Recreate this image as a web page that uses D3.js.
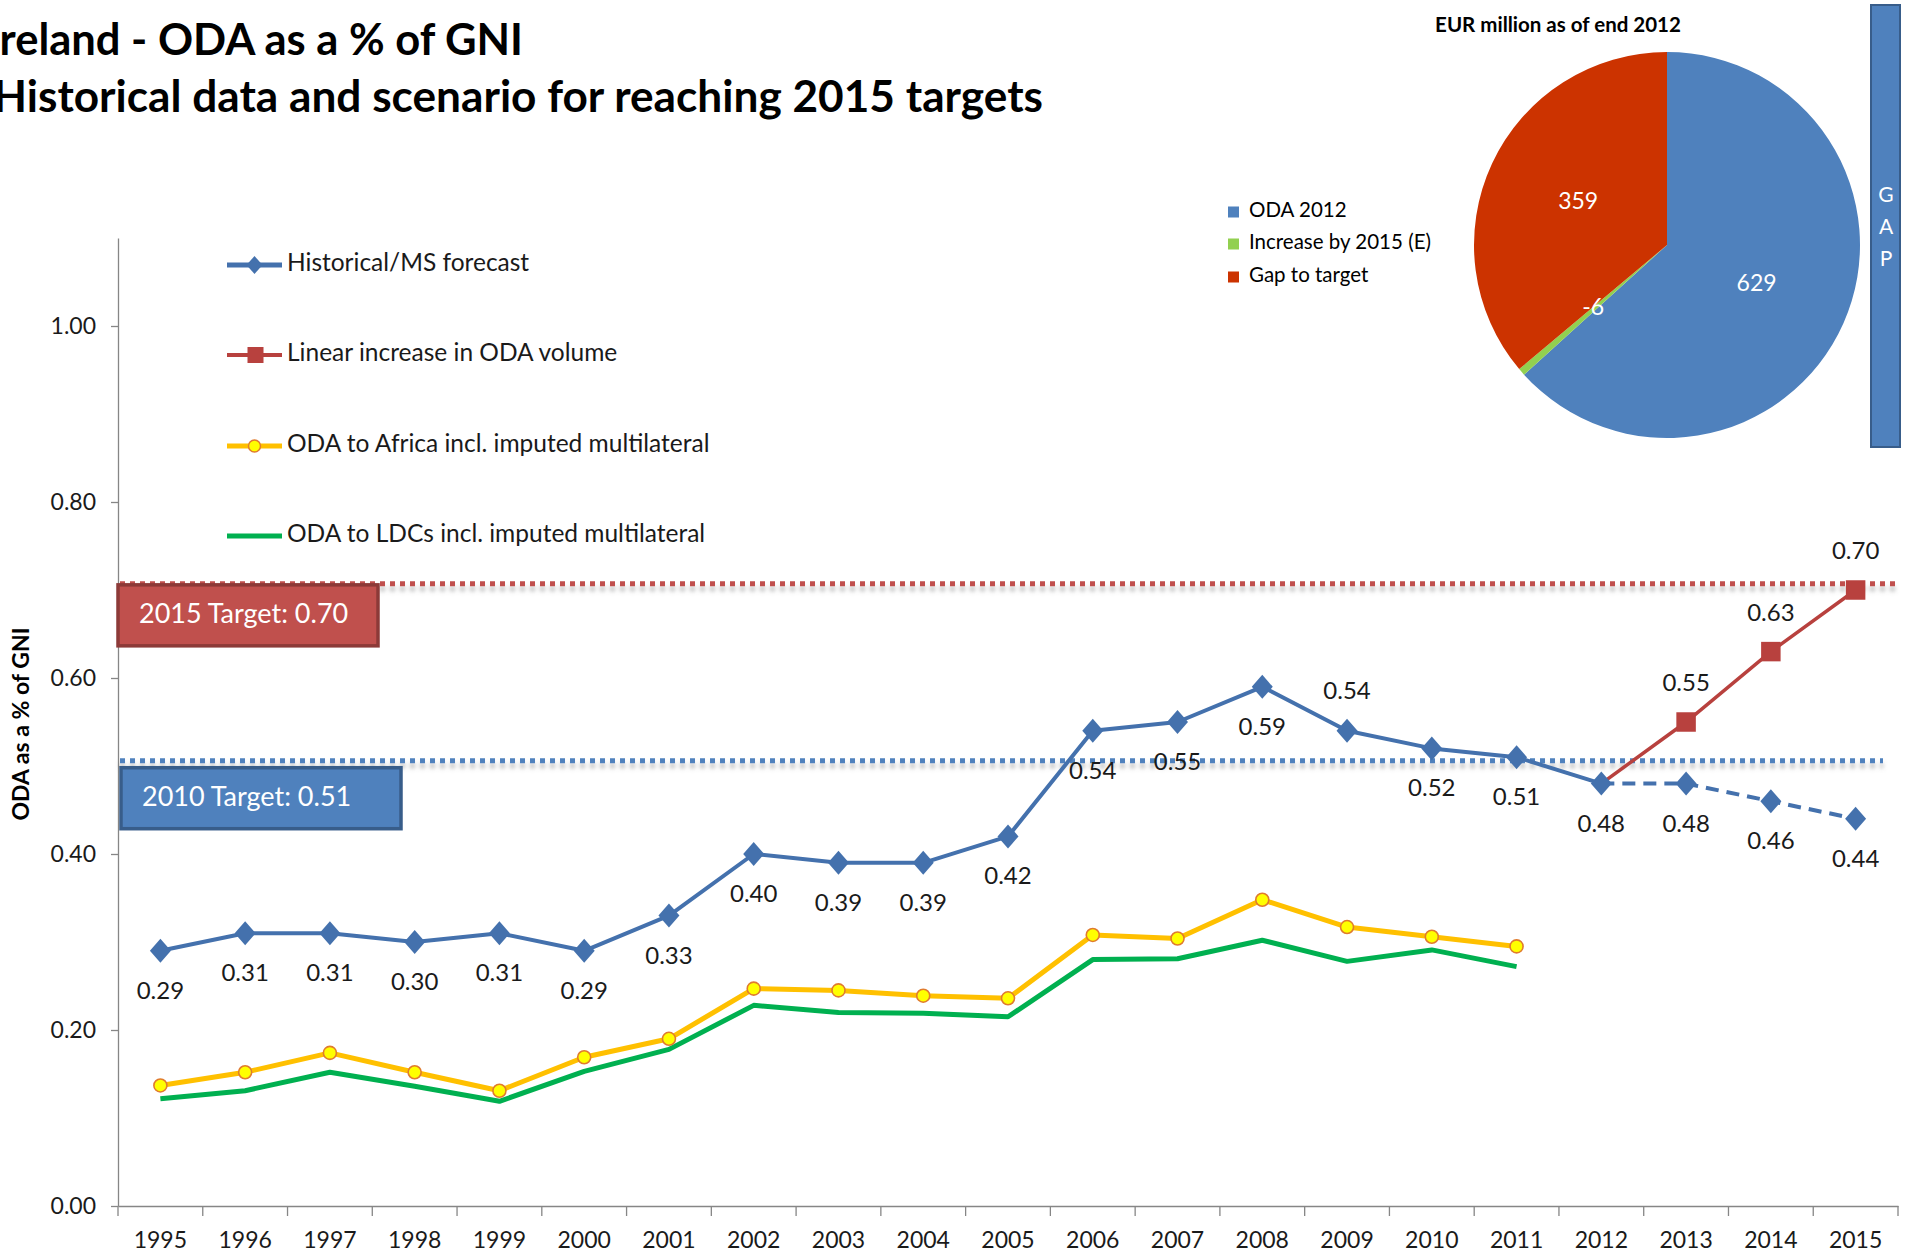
<!DOCTYPE html>
<html>
<head>
<meta charset="utf-8">
<script src="https://cdn.jsdelivr.net/npm/d3@7"></script>
<style>
  body { margin: 0; background: #fff; }
  svg { display: block; font-family: Lato, "Open Sans", sans-serif; }
</style>
</head>
<body>
<div id="chart"></div>
<script>
// categories
var years = [1995, 1996, 1997, 1998, 1999, 2000, 2001, 2002, 2003, 2004, 2005,
             2006, 2007, 2008, 2009, 2010, 2011, 2012, 2013, 2014, 2015];

// ODA as % of GNI, historical + MS forecast (2012 onward is the forecast)
var historical = [0.29, 0.31, 0.31, 0.30, 0.31, 0.29, 0.33, 0.40, 0.39, 0.39, 0.42,
                  0.54, 0.55, 0.59, 0.54, 0.52, 0.51, 0.48, 0.48, 0.46, 0.44];
var forecastFrom = 2012;

// linear increase scenario
var linearIncrease = [null, null, null, null, null, null, null, null, null, null, null,
                      null, null, null, null, null, null, 0.48, 0.55, 0.63, 0.70];

// ODA to Africa incl. imputed multilateral
var africa = [0.137, 0.152, 0.174, 0.152, 0.131, 0.169, 0.190, 0.247, 0.245, 0.239, 0.236,
              0.308, 0.304, 0.348, 0.317, 0.306, 0.295, null, null, null, null];

// ODA to LDCs incl. imputed multilateral
var ldcs = [0.122, 0.131, 0.152, 0.136, 0.119, 0.153, 0.178, 0.228, 0.220, 0.219, 0.215,
            0.280, 0.281, 0.302, 0.278, 0.291, 0.272, null, null, null, null];

// years whose blue data label sits above the marker
var labelsAbove = [2009];

var seriesNames = ["Historical/MS forecast", "Linear increase in ODA volume",
                   "ODA to Africa incl. imputed multilateral", "ODA to LDCs incl. imputed multilateral"];

var targetLabels = ["2015 Target: 0.70", "2010 Target: 0.51"];
var targetValues = [0.707, 0.506];

var yTicks = [0, 0.2, 0.4, 0.6, 0.8, 1.0];

// pie: EUR million as of end 2012
var pieNames = ["ODA 2012", "Increase by 2015 (E)", "Gap to target"];
var pieValues = [629, -6, 359];

var blue = "#4471AD", red = "#B8413E", yellow = "#FFC000", green = "#00B050";

var W = 1907, H = 1255;
var svg = d3.select("#chart").append("svg")
    .attr("width", W)
    .attr("height", H);

var defs = svg.append("defs");
var shadow = defs.append("filter").attr("id", "shadow")
    .attr("filterUnits", "userSpaceOnUse")
    .attr("x", 0).attr("y", 0).attr("width", W).attr("height", H);
shadow.append("feDropShadow")
    .attr("dx", 0).attr("dy", 5).attr("stdDeviation", 2.2)
    .attr("flood-color", "#777").attr("flood-opacity", 0.5);

// title
var title = svg.append("g").attr("font-weight", "bold").attr("fill", "#000");
title.append("text")
    .attr("x", -13).attr("y", 55)
    .attr("font-size", 44)
    .attr("textLength", 536).attr("lengthAdjust", "spacingAndGlyphs")
    .text("Ireland - ODA as a % of GNI");
title.append("text")
    .attr("x", -7).attr("y", 112)
    .attr("font-size", 44)
    .attr("textLength", 1050).attr("lengthAdjust", "spacingAndGlyphs")
    .text("Historical data and scenario for reaching 2015 targets");

// scales
var x = d3.scaleBand().domain(years).range([118, 1898]);
var y = d3.scaleLinear().domain([0, 1.1]).range([1206, 238]);
var cx = function(yr) { return x(yr) + x.bandwidth() / 2; };

// y axis
var yAxis = svg.append("g")
    .attr("transform", "translate(118,0)")
    .call(d3.axisLeft(y).tickValues(yTicks).tickFormat(d3.format(".2f"))
      .tickSize(7).tickSizeOuter(0).tickPadding(15));
yAxis.selectAll("path, line").attr("stroke", "#868686").attr("stroke-width", 1.3);
yAxis.selectAll("text").attr("font-size", 23).attr("fill", "#1a1a1a")
    .attr("font-family", "Lato, sans-serif");

svg.append("text")
    .attr("transform", "translate(23,724) rotate(-90)")
    .attr("text-anchor", "middle")
    .attr("dominant-baseline", "middle")
    .attr("font-weight", "bold")
    .attr("font-size", 23)
    .text("ODA as a % of GNI");

// x axis
var xAxis = svg.append("g")
    .attr("transform", "translate(0,1206)")
    .call(d3.axisBottom(x).tickSize(0).tickSizeOuter(0).tickPadding(26));
xAxis.select(".domain").attr("stroke", "#868686").attr("stroke-width", 1.5);
xAxis.selectAll("text").attr("font-size", 23).attr("fill", "#1a1a1a")
    .attr("font-family", "Lato, sans-serif");
xAxis.selectAll(".sep")
    .data(years.concat(["end"]))
    .join("line")
    .attr("class", "sep")
    .attr("x1", function(d) { return d === "end" ? x.range()[1] : x(d); })
    .attr("x2", function(d) { return d === "end" ? x.range()[1] : x(d); })
    .attr("y1", 0).attr("y2", 10)
    .attr("stroke", "#868686").attr("stroke-width", 1.3);

// target lines
var targetColors = ["#C0504D", "#4F81BD"];
var targetBorders = ["#8C3A38", "#385D8A"];
var boxWidths = [260, 280];
var boxLeft = [118, 121];
targetValues.forEach(function(v, i) {
  svg.append("line")
    .attr("x1", x.range()[0] + 2).attr("x2", x.range()[1] - (i ? 15 : 0))
    .attr("y1", y(v)).attr("y2", y(v))
    .attr("stroke", targetColors[i])
    .attr("stroke-width", 5)
    .attr("stroke-dasharray", "5 5")
    .attr("filter", "url(#shadow)");
  var top = y(v) + (i ? 7 : 1);
  svg.append("rect")
    .attr("x", boxLeft[i]).attr("y", top)
    .attr("width", boxWidths[i]).attr("height", 61)
    .attr("fill", targetColors[i])
    .attr("stroke", targetBorders[i]).attr("stroke-width", 3.5);
  svg.append("text")
    .attr("x", boxLeft[i] + 21).attr("y", top + 31)
    .attr("dominant-baseline", "middle")
    .attr("fill", "#fff").attr("font-size", 27)
    .text(targetLabels[i]);
});

function pts(values) {
  return years.map(function(yr, i) { return { year: yr, v: values[i] }; })
    .filter(function(d) { return d.v != null; });
}
var line = d3.line()
  .x(function(d) { return cx(d.year); })
  .y(function(d) { return y(d.v); });

// LDCs
svg.append("path").datum(pts(ldcs))
  .attr("d", line).attr("fill", "none")
  .attr("stroke", green).attr("stroke-width", 5).attr("stroke-linejoin", "round");

// Africa
svg.append("path").datum(pts(africa))
  .attr("d", line).attr("fill", "none")
  .attr("stroke", yellow).attr("stroke-width", 5).attr("stroke-linejoin", "round");
svg.selectAll(".afr").data(pts(africa)).join("circle")
  .attr("class", "afr")
  .attr("cx", function(d) { return cx(d.year); })
  .attr("cy", function(d) { return y(d.v); })
  .attr("r", 6.5)
  .attr("fill", "#FFFF00").attr("stroke", "#E07B2E").attr("stroke-width", 1.6);

// linear increase
var redPts = pts(linearIncrease);
svg.append("path").datum(redPts)
  .attr("d", line).attr("fill", "none")
  .attr("stroke", red).attr("stroke-width", 3.5);
var square = d3.symbol(d3.symbolSquare, 380);
svg.selectAll(".sq").data(redPts.slice(1)).join("path")
  .attr("class", "sq")
  .attr("d", square)
  .attr("transform", function(d) { return "translate(" + cx(d.year) + "," + y(d.v) + ")"; })
  .attr("fill", red);
svg.selectAll(".sqlab").data(redPts.slice(1)).join("text")
  .attr("class", "sqlab")
  .attr("x", function(d) { return cx(d.year); })
  .attr("y", function(d) { return y(d.v) - 37; })
  .attr("text-anchor", "middle").attr("dominant-baseline", "middle")
  .attr("font-size", 24).attr("fill", "#1a1a1a")
  .text(function(d) { return d3.format(".2f")(d.v); });

// historical / forecast
var bluePts = pts(historical);
svg.append("path")
  .datum(bluePts.filter(function(d) { return d.year <= forecastFrom; }))
  .attr("d", line).attr("fill", "none")
  .attr("stroke", blue).attr("stroke-width", 4).attr("stroke-linejoin", "round");
svg.append("path")
  .datum(bluePts.filter(function(d) { return d.year >= forecastFrom; }))
  .attr("d", line).attr("fill", "none")
  .attr("stroke", blue).attr("stroke-width", 4).attr("stroke-dasharray", "13 8");
var diamond = "M0,-12L10.5,0L0,12L-10.5,0Z";
svg.selectAll(".dia").data(bluePts).join("path")
  .attr("class", "dia")
  .attr("d", diamond)
  .attr("transform", function(d) { return "translate(" + cx(d.year) + "," + y(d.v) + ")"; })
  .attr("fill", blue);
svg.selectAll(".dlab").data(bluePts).join("text")
  .attr("class", "dlab")
  .attr("x", function(d) { return cx(d.year); })
  .attr("y", function(d) { return y(d.v) + (labelsAbove.indexOf(d.year) >= 0 ? -38 : 42); })
  .attr("text-anchor", "middle").attr("dominant-baseline", "middle")
  .attr("font-size", 24).attr("fill", "#1a1a1a")
  .text(function(d) { return d3.format(".2f")(d.v); });

// legend
var leg = svg.append("g");
var legY = [265, 355, 446, 536];
var legColors = [blue, red, yellow, green];
seriesNames.forEach(function(name, i) {
  var g = leg.append("g").attr("transform", "translate(0," + legY[i] + ")");
  g.append("line").attr("x1", 227).attr("x2", 282)
    .attr("stroke", legColors[i]).attr("stroke-width", i === 1 ? 4 : 5);
  if (i === 0) g.append("path").attr("d", "M0,-9L8,0L0,9L-8,0Z")
    .attr("transform", "translate(254.5,0)").attr("fill", blue);
  if (i === 1) g.append("rect").attr("x", 247.5).attr("y", -8).attr("width", 16).attr("height", 16)
    .attr("fill", red);
  if (i === 2) g.append("circle").attr("cx", 254.5).attr("r", 6)
    .attr("fill", "#FFFF00").attr("stroke", "#E07B2E").attr("stroke-width", 1.5);
  g.append("text").attr("x", 287).attr("dominant-baseline", "middle")
    .attr("font-size", 24.5).attr("fill", "#1a1a1a").text(name);
});

// pie
var pieColors = ["#4F81BD", "#92D050", "#CC3300"];
var pieData = d3.pie().sort(null).value(function(d) { return Math.abs(d); })(pieValues);
var R = 193;
var arc = d3.arc().innerRadius(0).outerRadius(R);
var labelArc = d3.arc().innerRadius(98).outerRadius(98);
var pie = svg.append("g").attr("transform", "translate(1667,245)");
pie.selectAll("path").data(pieData).join("path")
  .attr("d", arc)
  .attr("fill", function(d, i) { return pieColors[i]; });
pie.selectAll("text").data(pieData).join("text")
  .attr("transform", function(d) { return "translate(" + labelArc.centroid(d) + ")"; })
  .attr("text-anchor", "middle").attr("dominant-baseline", "middle")
  .attr("fill", "#fff").attr("font-size", 23)
  .text(function(d) { return d.data; });

svg.append("text")
  .attr("x", 1558).attr("y", 27)
  .attr("text-anchor", "middle").attr("dominant-baseline", "middle")
  .attr("font-weight", "bold").attr("font-size", 20.5)
  .text("EUR million as of end 2012");

var pieLegY = [212, 244, 277];
pieNames.forEach(function(name, i) {
  svg.append("rect").attr("x", 1228).attr("y", pieLegY[i] - 5.5)
    .attr("width", 11).attr("height", 11).attr("fill", pieColors[i]);
  svg.append("text").attr("x", 1249).attr("y", pieLegY[i])
    .attr("dominant-baseline", "middle").attr("font-size", 20.5).attr("fill", "#000")
    .text(name);
});

// GAP bar
svg.append("rect").attr("x", 1871).attr("y", 5).attr("width", 29).attr("height", 442)
  .attr("fill", "#4F81BD").attr("stroke", "#385D8A").attr("stroke-width", 2);
["G", "A", "P"].forEach(function(ch, i) {
  svg.append("text").attr("x", 1886).attr("y", 197 + i * 32)
    .attr("text-anchor", "middle").attr("dominant-baseline", "middle")
    .attr("fill", "#fff").attr("font-size", 21).text(ch);
});
</script>
</body>
</html>
